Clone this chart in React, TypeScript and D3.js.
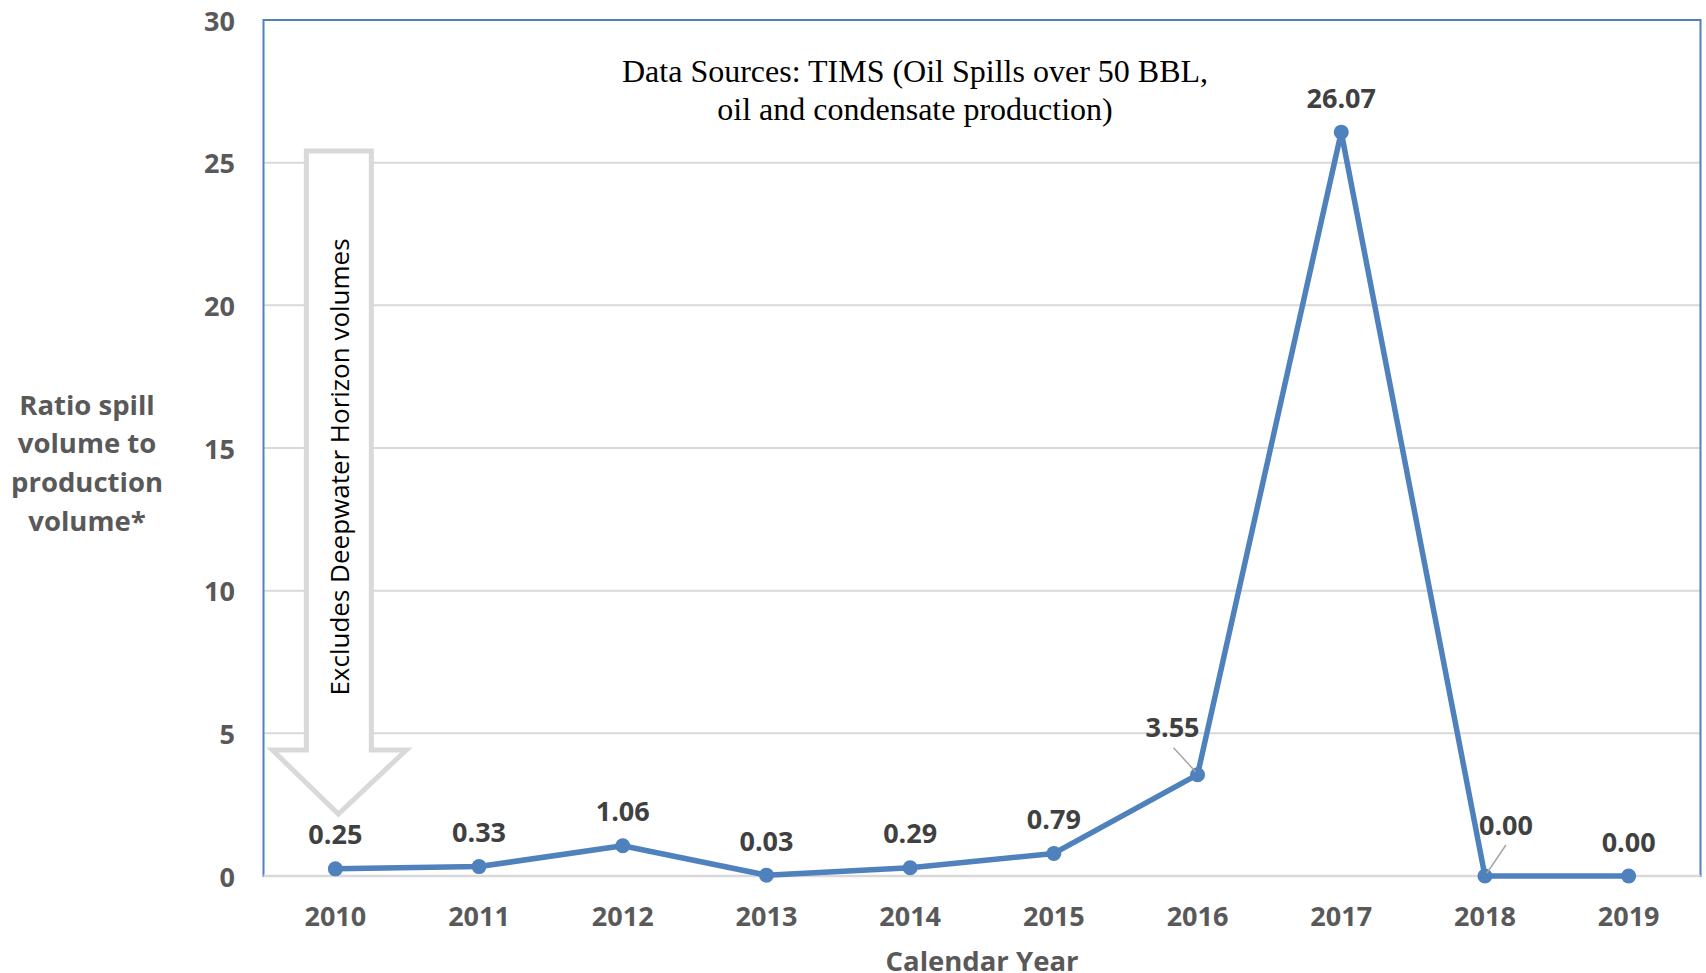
import React from "react";
import * as d3 from "d3";

const years = ["2010", "2011", "2012", "2013", "2014", "2015", "2016", "2017", "2018", "2019"];
const ratios = [0.25, 0.33, 1.06, 0.03, 0.29, 0.79, 3.55, 26.07, 0.0, 0.0];
const yTicks = [0, 5, 10, 15, 20, 25, 30];
const yTitleLines = ["Ratio spill", "volume to", "production", "volume*"];
const xTitle = "Calendar Year";
const sourceLines = ["Data Sources: TIMS (Oil Spills over 50 BBL,", "oil and condensate production)"];
const arrowNote = "Excludes Deepwater Horizon volumes";

// label placements that deviate from default (offset relative to point, plus leader line)
const labelOffsets: Record<string, { dx: number; dy: number; leader: boolean }> = {
  "2016": { dx: -25, dy: -48, leader: true },
  "2018": { dx: 21, dy: -52, leader: true },
};

const W = 1706;
const H = 973;
const plot = { left: 263.5, right: 1700.5, top: 20, bottom: 876 };

export default function App() {
  const x = d3.scaleBand<string>().domain(years).range([plot.left, plot.right]).padding(0);
  const y = d3.scaleLinear().domain([0, 30]).range([plot.bottom, plot.top]);
  const cx = (yr: string) => (x(yr) ?? 0) + x.bandwidth() / 2;

  const line = d3
    .line<number>()
    .x((_, i) => cx(years[i]))
    .y((d) => y(d));

  const axisFont = "'Open Sans', 'DejaVu Sans', sans-serif";
  const gray = "#595959";
  const blue = "#4F81BD";

  const ax = cx("2010") + 3;
  const shaftL = ax - 32;
  const shaftR = ax + 33;
  const headL = ax - 66;
  const headR = ax + 68;
  const aTop = 151;
  const aBase = 750;
  const aTip = 814;
  const arrowPath = `M${shaftL},${aTop} L${shaftR},${aTop} L${shaftR},${aBase} L${headR},${aBase} L${ax},${aTip} L${headL},${aBase} L${shaftL},${aBase} Z`;

  return (
    <svg
      width={W}
      height={H}
      style={{ position: "absolute", left: 0, top: 0, background: "#fff" }}
      fontFamily={axisFont}
    >
      {yTicks.map((t) => (
        <line key={t} x1={plot.left} x2={plot.right} y1={y(t)} y2={y(t)} stroke="#D9D9D9" strokeWidth={2} />
      ))}
      <rect
        x={plot.left}
        y={plot.top}
        width={plot.right - plot.left}
        height={plot.bottom - plot.top}
        fill="none"
        stroke={blue}
        strokeWidth={2}
      />
      <line x1={plot.left} x2={plot.right} y1={y(0)} y2={y(0)} stroke="#D9D9D9" strokeWidth={2.5} />

      {yTicks.map((t) => (
        <text
          key={t}
          x={235}
          y={y(t)}
          textAnchor="end"
          dominantBaseline="central"
          fontSize={27}
          fontWeight={700}
          fill={gray}
        >
          {t}
        </text>
      ))}

      {years.map((yr) => (
        <text
          key={yr}
          x={cx(yr)}
          y={915}
          textAnchor="middle"
          dominantBaseline="central"
          fontSize={27}
          fontWeight={700}
          fill={gray}
        >
          {yr}
        </text>
      ))}

      {yTitleLines.map((l, i) => (
        <text
          key={l}
          x={87}
          y={404 + i * 38.7}
          textAnchor="middle"
          dominantBaseline="central"
          fontSize={27.5}
          fontWeight={700}
          fill={gray}
        >
          {l}
        </text>
      ))}

      <text x={982} y={960} textAnchor="middle" dominantBaseline="central" fontSize={27.5} fontWeight={700} fill={gray}>
        {xTitle}
      </text>

      {sourceLines.map((l, i) => (
        <text
          key={l}
          x={915}
          y={71 + i * 38}
          textAnchor="middle"
          dominantBaseline="central"
          fontSize={32}
          fontFamily="'Liberation Serif', 'Times New Roman', serif"
          fill="#000"
        >
          {l}
        </text>
      ))}

      <path d={arrowPath} fill="#fff" stroke="#D9D9D9" strokeWidth={5} strokeLinejoin="miter" />
      <text
        transform={`translate(${ax + 1},467) rotate(-90)`}
        textAnchor="middle"
        dominantBaseline="central"
        fontSize={26}
        fill="#000"
      >
        {arrowNote}
      </text>

      <path d={line(ratios) ?? ""} fill="none" stroke={blue} strokeWidth={5.5} strokeLinejoin="round" />
      {ratios.map((v, i) => (
        <circle key={years[i]} cx={cx(years[i])} cy={y(v)} r={7.5} fill={blue} />
      ))}

      {ratios.map((v, i) => {
        const yr = years[i];
        const px = cx(yr);
        const py = y(v);
        const off = labelOffsets[yr] ?? { dx: 0, dy: -35, leader: false };
        const lx = px + off.dx;
        const ly = py + off.dy;
        return (
          <g key={yr}>
            {off.leader && (
              <line
                x1={lx + (off.dx < 0 ? 1 : 0)}
                y1={ly + 21}
                x2={px - (off.dx < 0 ? 2 : -2)}
                y2={py - 3}
                stroke="#A6A6A6"
                strokeWidth={1.5}
              />
            )}
            <text
              x={lx}
              y={ly}
              textAnchor="middle"
              dominantBaseline="central"
              fontSize={27}
              fontWeight={700}
              fill="#404040"
            >
              {v.toFixed(2)}
            </text>
          </g>
        );
      })}
    </svg>
  );
}
